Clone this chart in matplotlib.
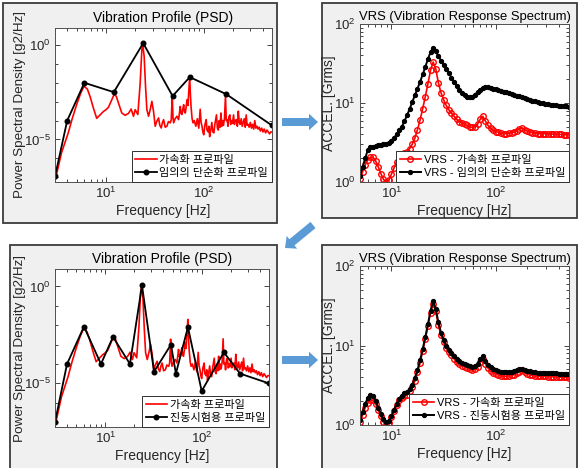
import numpy as np
import matplotlib
matplotlib.use('Agg')
import matplotlib.pyplot as plt
import matplotlib.patches as mpatches
from matplotlib.ticker import FixedLocator, LogFormatterSciNotation, NullFormatter, LogLocator

plt.rcParams['font.family'] = ['Liberation Sans', 'Noto Sans CJK KR']

# ---------------- DATA ----------------
# measured acceleration PSD (red) : frequency [Hz], log10(PSD [g2/Hz])
psd_freq = [3.0, 3.5, 4.1, 4.5, 5.0, 5.5, 5.94, 6.43, 6.85, 7.41, 8.02, 8.68, 9.39, 10.0, 10.57,
            11.43, 12.18, 12.8, 13.39, 14.49, 15.68, 16.96, 18.06, 18.5, 19.09, 19.86, 21.15,
            22.35, 23.24, 23.8, 24.55, 25.36, 26.17, 27.22, 28.31, 29.44, 30.62, 31.85, 33.0,
            34.48, 35.5, 36.7, 37.8, 38.8, 40.3, 41.98, 43.5, 45.46, 46.5, 47.6, 48.4, 49.2,
            51.0, 53.2, 55.3, 57.5, 58.5, 59.8, 61.0, 62.3, 63.5, 64.8, 66.0, 67.4, 69.0, 70.1,
            71.8, 73.0, 74.1, 76.0, 77.7, 80, 83, 86, 89, 92, 94, 96, 98, 100, 103, 106, 108,
            111, 113, 115, 118, 121, 124, 127, 130, 133, 135, 138, 141, 144, 147, 150, 153, 156,
            159, 163, 167, 170, 174, 177, 181, 185, 189, 193, 197, 202, 206, 211, 216, 221, 226,
            231, 236, 242, 248, 254, 260, 266, 272, 278, 285, 292, 300, 308, 316, 325, 333, 342,
            351, 360, 370, 380, 392, 404, 416, 430, 444, 458, 472, 486, 500]
psd_accel_log10 = [-7.2, -5.7, -4.65, -3.9, -3.15, -2.55, -2.18, -2.33, -2.72, -3.33, -3.88, -3.70,
                   -3.52, -3.42, -3.30, -2.90, -2.58, -2.75, -3.07, -3.60, -3.72, -3.62, -3.39,
                   -3.55, -3.77, -3.42, -3.68, -2.02, -0.26, 0.0, -0.61, -2.19, -3.42, -3.77,
                   -3.42, -2.98, -3.51, -4.30, -4.05, -3.86, -4.25, -4.39, -4.10, -3.95, -4.35,
                   -4.30, -4.05, -4.12, -3.95, -2.72, -3.80, -4.12, -3.90, -3.77, -3.95, -3.25,
                   -3.60, -3.68, -3.40, -3.16, -3.55, -3.60, -3.30, -2.89, -3.20, -2.54, -1.70,
                   -2.60, -3.25, -3.90, -4.12, -4.00, -4.30, -3.90, -4.40, -3.40, -4.10, -4.30,
                   -4.60, -4.75, -4.20, -3.95, -4.50, -4.60, -4.30, -4.85, -4.50, -4.10, -4.60,
                   -4.65, -4.20, -3.90, -3.70, -4.40, -4.50, -4.00, -4.35, -3.60, -4.30, -4.00,
                   -4.25, -3.90, -2.70, -4.00, -3.95, -4.30, -3.80, -3.70, -4.20, -4.00, -4.15,
                   -3.70, -4.20, -4.00, -3.95, -4.30, -3.50, -4.10, -4.20, -3.90, -4.30, -4.10,
                   -3.90, -4.35, -3.70, -4.25, -4.20, -4.35, -4.10, -4.40, -4.20, -4.45, -4.00,
                   -4.40, -4.30, -4.45, -4.35, -4.55, -4.40, -4.60, -4.45, -4.65, -4.50, -4.60,
                   -4.70, -4.60, -4.60]

# arbitrary simplified profile (black, top)
simple_freq = [3, 4, 6, 12, 24, 48, 72, 170, 500]
simple_psd = [1.1e-7, 1.0e-4, 1.0e-2, 3.2e-3, 1.25, 2.0e-3, 2.0e-2, 2.5e-3, 5.5e-5]

# vibration-test profile (black, bottom)
test_freq = [3, 4, 6, 9, 12, 18, 24, 32, 48, 54, 72, 100, 170, 250, 500]
test_psd = [1.0e-7, 1.0e-4, 8.5e-3, 1.0e-4, 2.5e-3, 1.0e-4, 1.15, 4.0e-5, 1.0e-3, 3.2e-5,
            8.0e-3, 4.0e-6, 4.0e-4, 3.2e-5, 1.0e-5]

# VRS frequency grid [Hz]
vrs_freq = [5.00, 5.30, 5.61, 5.94, 6.29, 6.67, 7.06, 7.48, 7.92, 8.39, 8.89, 9.42, 9.98, 10.57,
            11.20, 11.86, 12.56, 13.31, 14.10, 14.93, 15.81, 16.75, 17.74, 18.79, 19.91, 21.08,
            22.33, 23.66, 25.06, 26.54, 28.12, 29.78, 31.55, 33.42, 35.40, 37.49, 39.72, 42.07,
            44.56, 47.20, 50.00, 52.96, 56.10, 59.42, 62.95, 66.67, 70.62, 74.81, 79.24, 83.94,
            88.91, 94.18, 99.76, 105.7, 111.9, 118.6, 125.6, 133.0, 140.9, 149.3, 158.1, 167.5,
            177.4, 187.9, 199.1, 210.8, 223.3, 236.6, 250.6, 265.4, 281.2, 297.8, 315.5, 334.2,
            354.0, 374.9, 397.2, 420.7, 445.6, 472.0, 500.0]
# VRS of measured acceleration profile [Grms]
vrs_accel = [1.10, 1.35, 1.65, 1.90, 2.05, 2.05, 1.85, 1.55, 1.28, 1.08, 1.00, 1.05, 1.25, 1.50,
             1.80, 2.05, 2.20, 2.30, 2.40, 2.65, 3.0, 3.6, 4.6, 6.1, 8.5, 12.0, 17.5, 26.0, 33.0,
             27.0, 18.0, 13.5, 11.0, 9.3, 8.2, 7.5, 6.8, 6.2, 5.8, 5.6, 5.4, 5.2, 5.0, 4.9, 5.0,
             5.4, 6.2, 6.8, 5.9, 5.2, 4.8, 4.5, 4.35, 4.25, 4.15, 4.10, 4.10, 4.15, 4.20, 4.30,
             4.45, 4.70, 4.85, 4.60, 4.40, 4.30, 4.20, 4.15, 4.10, 4.10, 4.10, 4.08, 4.05, 4.05,
             4.03, 4.02, 4.00, 4.00, 3.98, 3.97, 3.95]
# VRS of simplified profile [Grms]
vrs_simple = [1.20, 1.55, 2.0, 2.55, 2.75, 2.80, 2.85, 2.90, 2.95, 3.0, 3.05, 3.15, 3.35, 3.6,
              4.0, 4.5, 5.0, 5.9, 7.0, 8.4, 10.3, 12.5, 15.2, 18.5, 23.0, 28.5, 36.0, 44.0, 50.0,
              45.0, 39.5, 34.5, 30.5, 27.0, 24.0, 21.0, 18.5, 16.5, 14.8, 13.5, 12.5, 12.0, 11.9,
              12.0, 12.8, 13.8, 14.8, 15.6, 16.0, 15.9, 15.6, 15.2, 14.9, 14.5, 14.2, 13.9, 13.6,
              13.3, 13.0, 12.7, 12.4, 12.1, 11.8, 11.5, 11.2, 10.9, 10.7, 10.5, 10.3, 10.1, 9.9,
              9.75, 9.6, 9.5, 9.4, 9.3, 9.2, 9.15, 9.1, 9.05, 9.0]
# VRS of vibration-test profile [Grms]
vrs_test = [1.15, 1.45, 1.85, 2.20, 2.40, 2.30, 2.00, 1.65, 1.38, 1.18, 1.10, 1.12, 1.30, 1.55,
            1.85, 2.15, 2.35, 2.50, 2.60, 2.80, 3.20, 3.90, 4.90, 6.5, 9.0, 12.8, 18.5, 27.5, 36.0,
            29.0, 19.5, 14.5, 11.8, 10.0, 8.8, 8.0, 7.3, 6.7, 6.3, 6.1, 5.9, 5.7, 5.5, 5.4, 5.5,
            5.9, 6.7, 7.3, 6.4, 5.7, 5.3, 5.0, 4.85, 4.75, 4.65, 4.60, 4.60, 4.62, 4.68, 4.75,
            4.90, 5.05, 5.10, 4.95, 4.80, 4.72, 4.65, 4.60, 4.57, 4.55, 4.53, 4.50, 4.48, 4.47,
            4.46, 4.45, 4.44, 4.43, 4.42, 4.41, 4.40]

lbl_accel = '가속화 프로파일'
lbl_simple = '임의의 단순화 프로파일'
lbl_test = '진동시험용 프로파일'

# ---------------- FIGURE ----------------
W, H = 583, 468
fig = plt.figure(figsize=(W / 100, H / 100), dpi=100)


def rect_px(x0, y0, x1, y1):
    return [x0 / W, 1 - y1 / H, (x1 - x0) / W, (y1 - y0) / H]


# gray window panels
for (x0, y0, x1, y1) in [(3, 3, 277, 223), (322, 3, 577, 218), (10, 245, 277, 475), (322, 245, 577, 475)]:
    l, b, w, h = rect_px(x0, y0, x1, y1)
    fig.add_artist(mpatches.Rectangle((l, b), w, h, transform=fig.transFigure,
                                      facecolor='#f0f0f0', edgecolor='#3c3c3c', lw=1.3, zorder=-5))

ax1 = fig.add_axes(rect_px(55, 28, 272, 182))
ax2 = fig.add_axes(rect_px(360, 24, 569, 182))
ax3 = fig.add_axes(rect_px(55, 269, 269, 427))
ax4 = fig.add_axes(rect_px(360, 266, 569, 425))

AXC = '#262626'


def base_style(ax):
    ax.set_xscale('log')
    ax.set_yscale('log')
    ax.set_facecolor('white')
    for s in ax.spines.values():
        s.set_color('#505050')
        s.set_linewidth(0.7)
    ax.tick_params(which='both', direction='in', top=True, right=True, colors=AXC,
                   labelsize=9.5, width=0.6)
    ax.tick_params(which='major', length=3.5, pad=3)
    ax.tick_params(which='minor', length=2)
    ax.xaxis.set_major_locator(FixedLocator([10, 100]))
    ax.xaxis.set_major_formatter(LogFormatterSciNotation())
    ax.xaxis.set_minor_locator(LogLocator(base=10, subs=range(2, 10)))
    ax.xaxis.set_minor_formatter(NullFormatter())
    ax.set_xlabel('Frequency [Hz]', fontsize=10, color=AXC, labelpad=2)


def psd_style(ax, width_px):
    base_style(ax)
    ax.set_xlim(3, 500)
    ax.set_ylim(10 ** -7.25, 10 ** 0.9)
    ax.yaxis.set_major_locator(FixedLocator([1e-5, 1e0]))
    ax.yaxis.set_major_formatter(LogFormatterSciNotation())
    ax.yaxis.set_minor_locator(FixedLocator([1e-7, 1e-6, 1e-4, 1e-3, 1e-2, 1e-1]))
    ax.yaxis.set_minor_formatter(NullFormatter())
    ax.set_ylabel('Power Spectral Density [g2/Hz]', fontsize=9.7, color=AXC)
    ax.yaxis.set_label_coords(-29 / width_px, 0.5)
    ax.set_title('Vibration Profile (PSD)', fontsize=10, color='black', pad=4)


def vrs_style(ax):
    base_style(ax)
    ax.set_xlim(5, 500)
    ax.set_ylim(1, 100)
    ax.yaxis.set_major_locator(FixedLocator([1, 10, 100]))
    ax.yaxis.set_major_formatter(LogFormatterSciNotation())
    ax.yaxis.set_minor_locator(LogLocator(base=10, subs=range(2, 10)))
    ax.yaxis.set_minor_formatter(NullFormatter())
    ax.set_ylabel('ACCEL. [Grms]', fontsize=10, color=AXC)
    ax.yaxis.set_label_coords(-24 / 209, 0.5)
    ax.set_title('VRS (Vibration Response Spectrum)', fontsize=9.4, color='black', pad=3)


def legend(ax):
    leg = ax.legend(loc='lower right', borderaxespad=0, fancybox=False, edgecolor='#303030',
                    framealpha=1, fontsize=8, handlelength=1.9, handletextpad=0.25,
                    borderpad=0.35, labelspacing=0.3)
    leg.get_frame().set_linewidth(0.7)


psd_accel = 10 ** np.array(psd_accel_log10)

# panel 1
psd_style(ax1, 217)
ax1.plot(psd_freq, psd_accel, color='red', lw=1.2, label=lbl_accel)
ax1.plot(simple_freq, simple_psd, color='black', lw=1.3, marker='o', ms=3.3, label=lbl_simple)
legend(ax1)

# panel 3
psd_style(ax3, 214)
ax3.plot(psd_freq, psd_accel, color='red', lw=1.2, label=lbl_accel)
ax3.plot(test_freq, test_psd, color='black', lw=1.3, marker='o', ms=3.3, label=lbl_test)
legend(ax3)

# panel 2
vrs_style(ax2)
ax2.plot(vrs_freq, vrs_accel, color='red', lw=1.2, marker='o', ms=4, mfc='none', mew=1.0,
         label='VRS - ' + lbl_accel)
ax2.plot(vrs_freq, vrs_simple, color='black', lw=1.4, marker='o', ms=2.8, label='VRS - ' + lbl_simple)
legend(ax2)

# panel 4
vrs_style(ax4)
ax4.plot(vrs_freq, vrs_accel, color='red', lw=1.2, marker='o', ms=4, mfc='none', mew=1.0,
         label='VRS - ' + lbl_accel)
ax4.plot(vrs_freq, vrs_test, color='black', lw=1.4, marker='o', ms=2.8, label='VRS - ' + lbl_test)
legend(ax4)

# arrows (pixel -> inch coords, origin bottom-left)
ARC = '#5b9bd5'


def arrow_px(x0, y0, x1, y1):
    a = mpatches.FancyArrow(x0 / 100, (H - y0) / 100, (x1 - x0) / 100, -(y1 - y0) / 100,
                            width=0.08, head_width=0.165, head_length=0.09,
                            length_includes_head=True, transform=fig.dpi_scale_trans,
                            color=ARC, lw=0, zorder=10)
    fig.add_artist(a)


arrow_px(282, 122, 318, 122)
arrow_px(313, 225, 285, 248)
arrow_px(282, 360, 318, 360)

fig.savefig('out.png', dpi=100)
